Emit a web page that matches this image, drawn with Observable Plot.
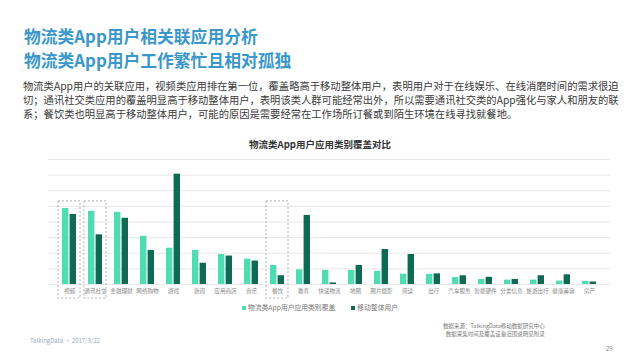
<!DOCTYPE html>
<html><head><meta charset="utf-8">
<script src="https://cdn.jsdelivr.net/npm/d3@7"></script>
<script src="https://cdn.jsdelivr.net/npm/@observablehq/plot@0.6"></script>
<style>
body{margin:0;background:#fff;font-family:"Noto Sans CJK SC","Noto Sans",sans-serif;}
#page{position:relative;width:640px;height:360px;overflow:hidden;background:#fff;}
.abs{position:absolute;white-space:nowrap;}
#t1,#t2{left:24px;font-size:16.8px;font-weight:bold;color:#3a97c9;line-height:20px;}
#t1{top:26px;} #t2{top:50px;}
#para{left:23px;top:79px;font-size:10.3px;color:#3a3a3a;line-height:14px;}
#ctitle{left:0;width:640px;text-align:center;top:137px;font-size:9.5px;font-weight:bold;color:#333;}
#chart{position:absolute;left:0;top:150px;}
#legend{left:0;width:640px;top:302px;text-align:center;font-size:6.8px;color:#777;}
#legend span.sw{display:inline-block;width:4px;height:4px;margin-right:2px;vertical-align:middle;}
#legend span.item{margin:0 8px;}
#src{left:443px;top:322px;font-size:5.5px;color:#777;line-height:8px;text-align:right;}
#pg{left:606px;top:344px;font-size:6px;color:#888;}
#foot{left:30px;top:336px;font-size:6px;color:#9ab;}
</style></head><body>
<div id="page">
  <div id="t1" class="abs">物流类App用户相关联应用分析</div>
  <div id="t2" class="abs">物流类App用户工作繁忙且相对孤独</div>
  <div id="para" class="abs">物流类App用户的关联应用，视频类应用排在第一位，覆盖略高于移动整体用户，表明用户对于在线娱乐、在线消磨时间的需求很迫<br>切；通讯社交类应用的覆盖明显高于移动整体用户，表明该类人群可能经常出外，所以需要通讯社交类的App强化与家人和朋友的联<br>系；餐饮类也明显高于移动整体用户，可能的原因是需要经常在工作场所订餐或到陌生环境在线寻找就餐地。</div>
  <div id="ctitle" class="abs">物流类App用户应用类别覆盖对比</div>
  <div id="chart"></div>
  <div id="legend" class="abs"></div>
  <div id="src" class="abs">数据来源：TalkingData移动数据研究中心<br>数据采集时间及覆盖设备范围说明见附录</div>
  <div id="pg" class="abs">29</div>
  <div id="foot" class="abs">TalkingData · 2017/3/22</div>
</div>
<script>
const categories = ["视频","通讯社交","金融理财","网络购物","游戏","新闻","应用商店","音乐","餐饮","教育","快递物流","地图","图片摄影","阅读","出行","汽车服务","智能硬件","分类信息","旅游出行","健康美容","房产"];
const logisticsUsers = [24.3,23.4,23.1,15.4,11.6,10.9,9.6,8.1,6.1,4.7,4.5,4.5,4.2,3.3,3.2,2.2,1.6,1.4,1.4,1.1,1.0];
const mobileUsers = [22.4,15.9,21.2,10.9,35.3,6.8,9.1,7.5,2.8,22.1,0.5,6.1,11.2,9.6,3.4,2.8,2.3,1.6,2.8,3.1,0.8];
const seriesNames = ["物流类App用户应用类别覆盖","移动整体用户"];
const seriesColors = ["#4fdcb3","#0f6a53"];
const highlighted = ["视频","通讯社交","餐饮"];
const gridTicks = [0,5,10,15,20,25,30,35,40];

const light = categories.map((c,i)=>({cat:c, v:logisticsUsers[i]}));
const dark = categories.map((c,i)=>({cat:c, v:mobileUsers[i]}));
const boxes = highlighted.map(c=>({cat:c}));

const chart = Plot.plot({
  width:640, height:150,
  marginTop:9, marginBottom:16, marginLeft:48, marginRight:30,
  x:{domain:categories, padding:0.46, label:null, tickSize:0, tickPadding:5},
  y:{domain:[0,40], axis:null},
  style:{fontSize:"5.6px", color:"#888", fontFamily:"'Noto Sans CJK SC',sans-serif", background:"transparent", overflow:"visible"},
  marks:[
    Plot.ruleY(gridTicks,{stroke:"#e8e8e8", strokeWidth:1}),
    Plot.barY(light,{x:"cat", y:"v", fill:seriesColors[0], insetRight:7.6}),
    Plot.barY(dark,{x:"cat", y:"v", fill:seriesColors[1], insetLeft:7.6}),
    Plot.barY(boxes,{x:"cat", y1:() => -4.5, y2:() => 26.6, fill:"none", stroke:"#9a9a9a", strokeWidth:0.8, strokeDasharray:"2,2", insetLeft:-4, insetRight:-4})
  ]
});
document.getElementById("chart").appendChild(chart);

document.getElementById("legend").innerHTML = seriesNames.map((n,i)=>
  `<span class="item"><span class="sw" style="background:${seriesColors[i]}"></span>${n}</span>`).join("");
</script>
</body></html>
